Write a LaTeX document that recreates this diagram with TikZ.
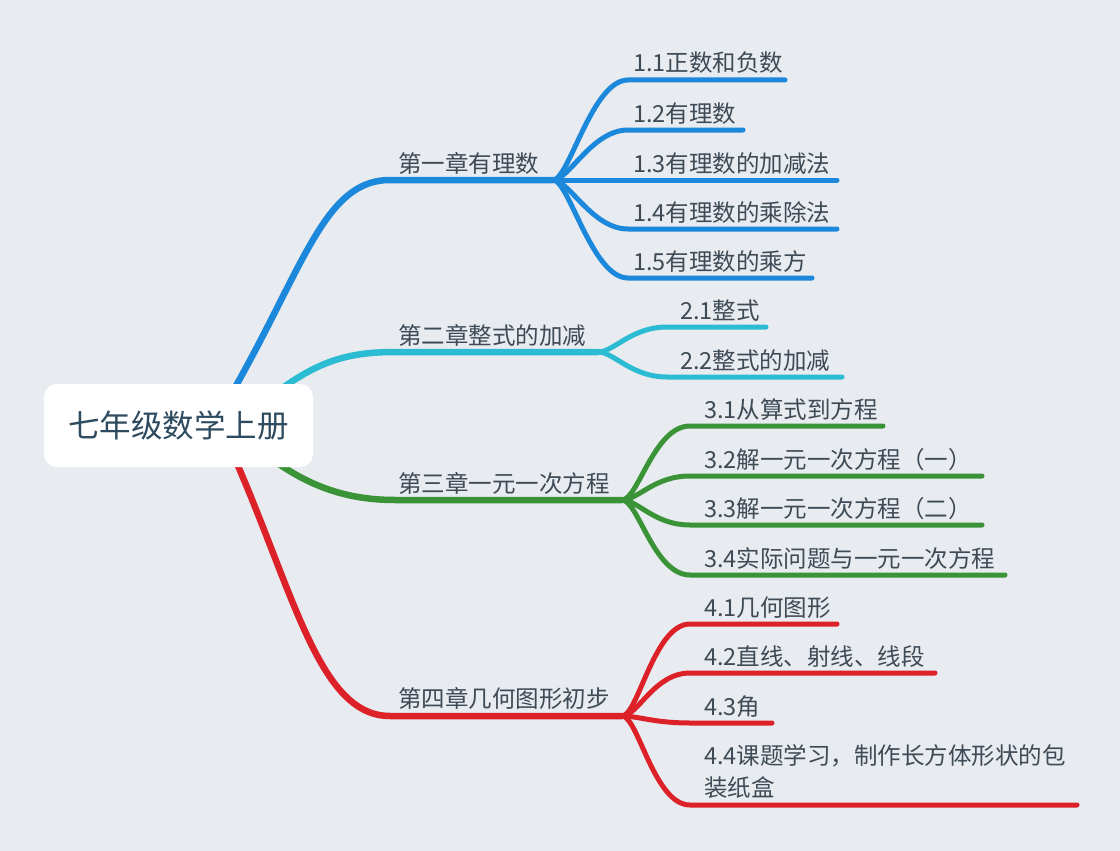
\documentclass[tikz,border=0pt]{standalone}
\usepackage{fontspec}
\setmainfont{Noto Sans CJK SC}
\definecolor{bg}{HTML}{E8EBEF}
\definecolor{txt}{HTML}{3E4A55}
\definecolor{rootc}{HTML}{2D4A5E}
\definecolor{cblue}{HTML}{1B88DB}
\definecolor{ccyan}{HTML}{2BBBD3}
\definecolor{cgreen}{HTML}{3A9437}
\definecolor{cred}{HTML}{DC2128}
\tikzset{
  mainline/.style={line width=6.5pt, line cap=round},
  subline/.style={line width=5pt, line cap=round},
  lbl/.style={anchor=base west, inner sep=0pt, text=txt, font=\fontsize{23.5}{32}\selectfont},
  rootbox/.style={fill=white, rounded corners=13pt, minimum width=269pt, minimum height=83pt, inner sep=0pt, text=rootc, font=\fontsize{31.5}{31.5}\selectfont},
  fan/.style={to path={.. controls +(16,0) and +(-36,0) .. (\tikztotarget)}}
}
\begin{document}
\begin{tikzpicture}[x=1pt,y=-1pt]
\fill[bg] (0,0) rectangle (1120,851);
\useasboundingbox (0,0) rectangle (1120,851);

% junctions and curve points
\coordinate (s1) at (216,420); \coordinate (h1) at (390,180); \coordinate (j1) at (553,180);
\coordinate (s2) at (260,405); \coordinate (h2) at (395,352); \coordinate (j2) at (598,352);
\coordinate (s3) at (260,450); \coordinate (h3) at (395,500); \coordinate (j3) at (622,500);
\coordinate (s4) at (222,430); \coordinate (h4) at (390,716); \coordinate (j4) at (622,716);

% main branches
\draw[mainline,cblue] (s1) .. controls (302,278) and (320,180) .. (h1) -- (j1);
\draw[mainline,ccyan] (s2) .. controls (310,365) and (340,352) .. (h2) -- (j2);
\draw[mainline,cgreen] (s3) .. controls (300,482) and (340,500) .. (h3) -- (j3);
\draw[mainline,cred] (s4) .. controls (292,580) and (315,716) .. (h4) -- (j4);

% chapter labels
\node[lbl] (c1) at (398,172) {第一章有理数};
\node[lbl] (c2) at (398,344) {第二章整式的加减};
\node[lbl] (c3) at (398,492) {第三章一元一次方程};
\node[lbl] (c4) at (398,707) {第四章几何图形初步};

% chapter 1 children
\coordinate (a1h) at (628,80);  \coordinate (a1e) at (785,80);
\coordinate (a2h) at (628,130); \coordinate (a2e) at (743,130);
\coordinate (a3e) at (837,180);
\coordinate (a4h) at (628,229); \coordinate (a4e) at (837,229);
\coordinate (a5h) at (628,278); \coordinate (a5e) at (812,278);
\draw[subline,cblue] (j1) to[fan] (a1h) -- (a1e);
\draw[subline,cblue] (j1) to[fan] (a2h) -- (a2e);
\draw[subline,cblue] (j1) -- (a3e);
\draw[subline,cblue] (j1) to[fan] (a4h) -- (a4e);
\draw[subline,cblue] (j1) to[fan] (a5h) -- (a5e);
\node[lbl] (t11) at (633,72) {1.1正数和负数};
\node[lbl] (t12) at (633,122) {1.2有理数};
\node[lbl] (t13) at (633,172) {1.3有理数的加减法};
\node[lbl] (t14) at (633,221) {1.4有理数的乘除法};
\node[lbl] (t15) at (633,270) {1.5有理数的乘方};

% chapter 2 children
\coordinate (b1h) at (667,327); \coordinate (b1e) at (766,327);
\coordinate (b2h) at (667,377); \coordinate (b2e) at (842,377);
\draw[subline,ccyan] (j2) to[fan] (b1h) -- (b1e);
\draw[subline,ccyan] (j2) to[fan] (b2h) -- (b2e);
\node[lbl] (t21) at (680,319) {2.1整式};
\node[lbl] (t22) at (680,369) {2.2整式的加减};

% chapter 3 children
\coordinate (g1h) at (690,426); \coordinate (g1e) at (883,426);
\coordinate (g2h) at (690,476); \coordinate (g2e) at (982,476);
\coordinate (g3h) at (690,525); \coordinate (g3e) at (982,525);
\coordinate (g4h) at (690,575); \coordinate (g4e) at (1005,575);
\draw[subline,cgreen] (j3) to[fan] (g1h) -- (g1e);
\draw[subline,cgreen] (j3) to[fan] (g2h) -- (g2e);
\draw[subline,cgreen] (j3) to[fan] (g3h) -- (g3e);
\draw[subline,cgreen] (j3) to[fan] (g4h) -- (g4e);
\node[lbl] (t31) at (704,418) {3.1从算式到方程};
\node[lbl] (t32) at (704,468) {3.2解一元一次方程（一）};
\node[lbl] (t33) at (704,517) {3.3解一元一次方程（二）};
\node[lbl] (t34) at (704,567) {3.4实际问题与一元一次方程};

% chapter 4 children
\coordinate (r1h) at (690,624); \coordinate (r1e) at (837,624);
\coordinate (r2h) at (690,673); \coordinate (r2e) at (935,673);
\coordinate (r3h) at (690,723); \coordinate (r3e) at (772,723);
\coordinate (r4h) at (690,805); \coordinate (r4e) at (1077,805);
\draw[subline,cred] (j4) to[fan] (r1h) -- (r1e);
\draw[subline,cred] (j4) to[fan] (r2h) -- (r2e);
\draw[subline,cred] (j4) to[fan] (r3h) -- (r3e);
\draw[subline,cred] (j4) to[fan] (r4h) -- (r4e);
\node[lbl] (t41) at (704,616) {4.1几何图形};
\node[lbl] (t42) at (704,665) {4.2直线、射线、线段};
\node[lbl] (t43) at (704,715) {4.3角};
\node[lbl, align=left] (t44) at (704,796) {4.4课题学习，制作长方体形状的包\\装纸盒};

% root
\node[rootbox] (root) at (178.5,425.5) {七年级数学上册};
\end{tikzpicture}
\end{document}
